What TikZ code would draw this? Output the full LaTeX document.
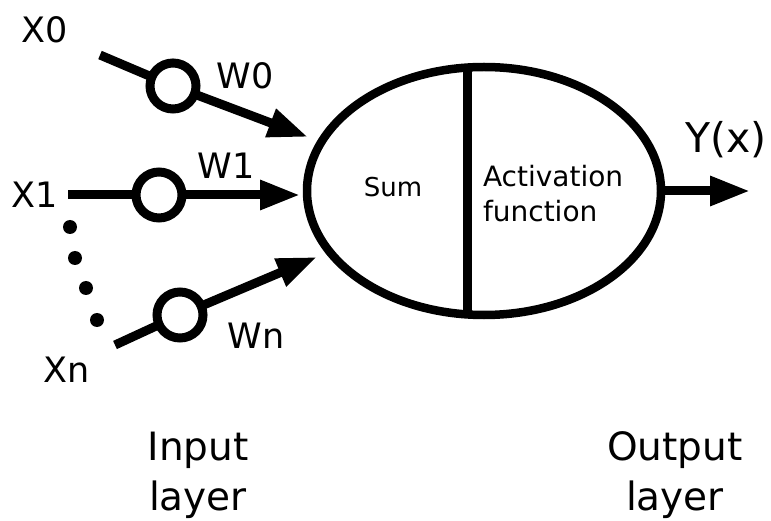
\documentclass[tikz,border=0pt]{standalone}
\usepackage{fontspec}
\setmainfont{DejaVu Sans}
\usetikzlibrary{shapes,arrows.meta}

\begin{document}
\begin{tikzpicture}[x=1pt, y=-1pt, line width=9pt,
    every node/.style={inner sep=0pt, outer sep=0pt, font=\fontsize{35}{40}\selectfont},
    weight/.style={circle, draw, fill=white, minimum size=46pt},
    link/.style={-{Triangle[length=40pt,width=28pt]}}]
    \useasboundingbox (0,0) rectangle (771,521);

    \node [ellipse, draw, line width=8.5pt, minimum width=354pt, minimum height=248pt] (neuron) at (484,191) {};
    \draw ([xshift=-17pt]neuron.north) -- ([xshift=-17pt]neuron.south);
    \node [anchor=base, font=\fontsize{26}{30}\selectfont] (sum) at (393,197) {Sum};
    \node [anchor=west, align=left, font=\fontsize{28}{35}\selectfont] (act) at (483,194) {Activation\\function};

    % inputs
    \coordinate (in0) at (100,55);
    \coordinate (in1) at (68,195);
    \coordinate (inn) at (115,345);
    \coordinate (tip0) at (308,137);
    \coordinate (tip1) at (300,195);
    \coordinate (tipn) at (317,257);
    \node [weight] (w0) at (173,86) {};
    \node [weight] (w1) at (159,195) {};
    \node [weight] (wn) at (180,315) {};
    \draw (in0) -- (w0);
    \draw (in1) -- (w1);
    \draw (inn) -- (wn);
    \draw [link] (w0) -- (tip0);
    \draw [link] (w1) -- (tip1);
    \draw [link] (wn) -- (tipn);
    \fill (70,227) circle (7) (75,258) circle (7) (86,288) circle (7) (97,320) circle (7);

    \node (x0) at (45,30) {X0};
    \node (x1) at (35,195) {X1};
    \node (xn) at (67,370) {Xn};
    \node (lw0) at (245,76) {W0};
    \node (lw1) at (226,166) {W1};
    \node (lwn) at (256,336) {Wn};

    % output
    \coordinate (out) at (750,191);
    \draw [link] (neuron.east) -- (out);
    \node [anchor=base west, font=\fontsize{41}{48}\selectfont] (yx) at (685,153) {Y(x)};

    \node [align=center, font=\fontsize{39}{50}\selectfont] (inlayer) at (198,475) {Input\\layer};
    \node [align=center, font=\fontsize{39}{50}\selectfont] (outlayer) at (675,475) {Output\\layer};
\end{tikzpicture}
\end{document}
